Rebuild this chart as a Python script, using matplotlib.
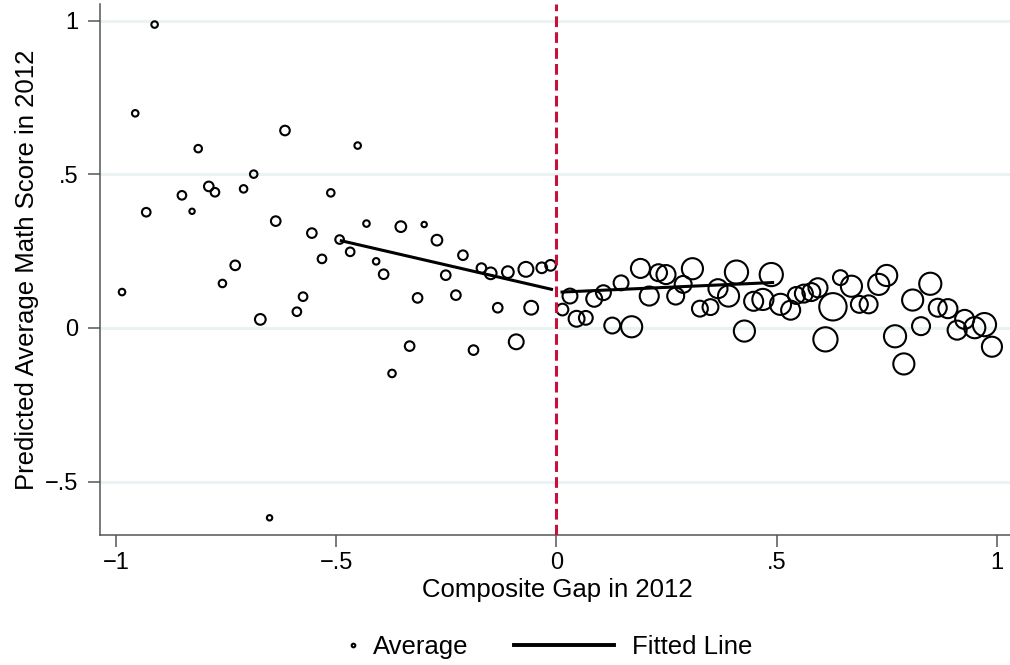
import numpy as np
import matplotlib
matplotlib.use("Agg")
from matplotlib import pyplot as plt
from matplotlib.lines import Line2D

plt.rcParams['font.family'] = ['Liberation Sans', 'DejaVu Sans']
plt.rcParams['axes.unicode_minus'] = True

# binned averages left of the cutoff (gap < 0)
gap_left = [-0.912, -0.956, -0.931, -0.986, -0.813, -0.850, -0.827, -0.789, -0.775, -0.710,
            -0.687, -0.729, -0.758, -0.616, -0.637, -0.672, -0.555, -0.532, -0.575, -0.589,
            -0.512, -0.492, -0.451, -0.431, -0.353, -0.300, -0.271, -0.468, -0.409, -0.392,
            -0.212, -0.251, -0.315, -0.228, -0.170, -0.149, -0.110, -0.069, -0.033, -0.013,
            -0.133, -0.057, -0.091, -0.333, -0.188, -0.373, -0.651]
score_left = [0.988, 0.699, 0.377, 0.117, 0.584, 0.432, 0.380, 0.461, 0.442, 0.453,
              0.501, 0.204, 0.145, 0.643, 0.348, 0.028, 0.309, 0.225, 0.102, 0.053,
              0.440, 0.288, 0.594, 0.340, 0.330, 0.337, 0.286, 0.248, 0.217, 0.175,
              0.237, 0.172, 0.098, 0.107, 0.195, 0.178, 0.182, 0.191, 0.196, 0.204,
              0.066, 0.066, -0.045, -0.059, -0.072, -0.148, -0.618]
n_left = [9, 9, 16, 9, 12, 16, 6, 20, 16, 12,
          12, 20, 12, 20, 20, 25, 20, 16, 16, 16,
          12, 16, 9, 9, 25, 6, 25, 16, 9, 20,
          20, 20, 20, 20, 20, 30, 30, 49, 25, 25,
          20, 42, 49, 20, 20, 12, 6]

# binned averages right of the cutoff (gap > 0)
gap_right = [0.014, 0.031, 0.046, 0.067, 0.086, 0.107, 0.127, 0.171, 0.147, 0.191,
             0.211, 0.232, 0.249, 0.271, 0.288, 0.309, 0.326, 0.350, 0.367, 0.409,
             0.391, 0.427, 0.448, 0.469, 0.488, 0.509, 0.532, 0.545, 0.562, 0.579,
             0.594, 0.611, 0.628, 0.645, 0.670, 0.688, 0.709, 0.732, 0.750, 0.809,
             0.849, 0.769, 0.828, 0.789, 0.866, 0.889, 0.910, 0.927, 0.950, 0.972,
             0.989]
score_right = [0.060, 0.104, 0.030, 0.033, 0.095, 0.115, 0.008, 0.004, 0.147, 0.194,
               0.104, 0.180, 0.174, 0.104, 0.142, 0.193, 0.063, 0.068, 0.128, 0.182,
               0.104, -0.010, 0.087, 0.093, 0.174, 0.077, 0.058, 0.106, 0.112, 0.117,
               0.131, -0.037, 0.069, 0.164, 0.136, 0.077, 0.077, 0.142, 0.171, 0.091,
               0.144, -0.027, 0.006, -0.117, 0.066, 0.063, -0.007, 0.028, 0.001, 0.011,
               -0.061]
n_right = [30, 49, 56, 42, 56, 49, 56, 100, 49, 81,
           81, 64, 81, 64, 64, 100, 56, 56, 81, 121,
           100, 100, 81, 100, 121, 100, 81, 64, 72, 72,
           81, 132, 169, 49, 100, 64, 72, 100, 100, 100,
           110, 110, 72, 100, 72, 81, 81, 81, 100, 121,
           90]

# local linear fits on each side of the cutoff
fit_left_x = [-0.488, -0.011]
fit_left_y = [0.284, 0.126]
fit_right_x = [0.013, 0.491]
fit_right_y = [0.117, 0.148]

xticks = [-1, -0.5, 0, 0.5, 1]
xtick_labels = ['\u22121', '\u2212.5', '0', '.5', '1']
yticks = [-0.5, 0, 0.5, 1]
ytick_labels = ['\u2212.5', '0', '.5', '1']

fig = plt.figure(figsize=(10.1, 6.65), dpi=100)
ax = fig.add_axes([0.099, 0.1955, 0.901, 0.7985])

def marker_area(n):
    # marker area grows with the number of observations in the bin
    return (1.5 * np.sqrt(np.asarray(n, dtype=float)) + 0.2) ** 2

ax.scatter(gap_left, score_left, s=marker_area(n_left), facecolors='none',
           edgecolors='black', linewidths=1.5, zorder=3)
ax.scatter(gap_right, score_right, s=marker_area(n_right), facecolors='none',
           edgecolors='black', linewidths=1.5, zorder=3)

ax.plot(fit_left_x, fit_left_y, color='black', lw=2.2, zorder=4)
ax.plot(fit_right_x, fit_right_y, color='black', lw=2.2, zorder=4)

ax.axvline(0, color='#C8103A', lw=2.2, linestyle=(0, (3.5, 1.7)), zorder=5)

ax.set_xlim(-1.036, 1.030)
ax.set_ylim(-0.674, 1.055)
ax.set_xticks(xticks)
ax.set_xticklabels(xtick_labels)
ax.set_yticks(yticks)
ax.set_yticklabels(ytick_labels)
ax.tick_params(axis='both', direction='out', length=8.6, width=1.1, color='#555555',
               labelsize=17, labelcolor='black')
ax.tick_params(axis='y', pad=7)
ax.tick_params(axis='x', pad=3.5)

ax.yaxis.grid(True, color='#EAF2F3', lw=2.2, zorder=0)
ax.set_axisbelow(True)
for side in ['top', 'right']:
    ax.spines[side].set_visible(False)
for side in ['left', 'bottom']:
    ax.spines[side].set_color('#555555')
    ax.spines[side].set_linewidth(1.1)

ax.set_xlabel('Composite Gap in 2012', fontsize=18.5, va='center')
ax.set_ylabel('Predicted Average Math Score in 2012', fontsize=18.5, va='center')
ax.xaxis.set_label_coords(0.502, -0.1036)
ax.yaxis.set_label_coords(-0.080, 0.5)

h_avg = Line2D([], [], marker='o', linestyle='none', markersize=2.6,
               markerfacecolor='white', markeredgecolor='black', markeredgewidth=1.5)
h_fit = Line2D([], [], color='black', lw=2.8)
fig.legend(handles=[h_avg], labels=['Average'], loc='center left',
           bbox_to_anchor=(340 / 1010, 1 - 647 / 665), frameon=False,
           borderpad=0, borderaxespad=0, handlelength=1.0, handletextpad=0.3,
           fontsize=18.5)
fig.legend(handles=[h_fit], labels=['Fitted Line'], loc='center left',
           bbox_to_anchor=(514 / 1010, 1 - 647 / 665), frameon=False,
           borderpad=0, borderaxespad=0, handlelength=3.89, handletextpad=0.7,
           fontsize=18.5)

fig.savefig('out.png', dpi=100)
